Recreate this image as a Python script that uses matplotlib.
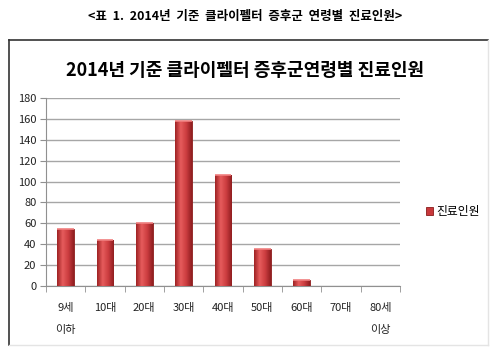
import numpy as np
import matplotlib
matplotlib.use("Agg")
from matplotlib import pyplot as plt
from matplotlib.lines import Line2D
from matplotlib.colors import LinearSegmentedColormap

plt.rcParams['font.family'] = ['Noto Sans CJK KR', 'DejaVu Sans']

categories = ['9세\n이하', '10대', '20대', '30대', '40대', '50대', '60대', '70대', '80세\n이상']
patients = [55, 44, 60, 158, 106, 35, 6, 0, 0]
series_name = '진료인원'
caption = '<표  1.  2014년  기준  클라이펠터  증후군  연령별  진료인원>'
title = '2014년 기준 클라이펠터 증후군연령별 진료인원'
yticks = list(range(0, 181, 20))

fig = plt.figure(figsize=(5, 3.52), dpi=100)
fig.patch.set_facecolor('white')

# outer chart frame: dark on left/top, faint on right/bottom
fig.add_artist(Line2D([0.018, 0.018], [0.02, 0.885], color='#333333', lw=1.2))
fig.add_artist(Line2D([0.018, 0.976], [0.885, 0.885], color='#333333', lw=1.2))
fig.add_artist(Line2D([0.976, 0.976], [0.02, 0.885], color='#e4e4e4', lw=1.0))
fig.add_artist(Line2D([0.018, 0.976], [0.02, 0.02], color='#e4e4e4', lw=1.0))

fig.text(0.49, 0.952, caption, ha='center', va='center', fontsize=9, fontweight='bold')
fig.text(0.49, 0.80, title, ha='center', va='center', fontsize=13, fontweight='bold')

ax = fig.add_axes([0.092, 0.1875, 0.708, 0.534])
x = np.arange(len(categories))
bars = ax.bar(x, patients, width=0.42, color='#c8383b', edgecolor='#8a1c1c',
              linewidth=0.6, zorder=3, label=series_name)

# shaded look on each bar
shade = LinearSegmentedColormap.from_list('shade', ['#9e2224', '#e65c5c', '#cc3d40', '#901e20'])
grad = np.linspace(0, 1, 64).reshape(1, -1)
for b in bars:
    if b.get_height() <= 0:
        continue
    bx, by = b.get_x(), b.get_y()
    im = ax.imshow(grad, cmap=shade, aspect='auto', zorder=3.5,
                   extent=(bx, bx + b.get_width(), by, by + b.get_height()))
    im.set_clip_path(b)
    ax.plot([bx, bx + b.get_width()], [b.get_height(), b.get_height()],
            color='#f08080', lw=1.2, zorder=4, solid_capstyle='butt')

ax.set_xlim(-0.5, len(categories) - 0.5)
ax.set_ylim(0, 180)
ax.set_yticks(yticks)
ax.set_xticks(x)
ax.set_xticklabels(categories, linespacing=2.5, va='top')
ax.set_xticks(np.arange(-0.5, len(categories)), minor=True)
ax.tick_params(axis='x', which='major', length=0, pad=12, labelsize=8, colors='#222222')
ax.tick_params(axis='x', which='minor', length=4, color='#909090')
ax.tick_params(axis='y', length=4, color='#909090', labelsize=8, labelcolor='#222222', pad=3)
ax.grid(axis='y', color='#a6a6a6', lw=1.0, zorder=0)
for side in ['top', 'right']:
    ax.spines[side].set_visible(False)
for side in ['left', 'bottom']:
    ax.spines[side].set_color('#909090')
ax.set_axisbelow(True)

fig.legend(handles=[bars], labels=[series_name], loc='center left',
           bbox_to_anchor=(0.83, 0.398), frameon=False, fontsize=8.5,
           handlelength=0.6, handleheight=0.6, handletextpad=0.3)

fig.savefig('out.png', dpi=100)
